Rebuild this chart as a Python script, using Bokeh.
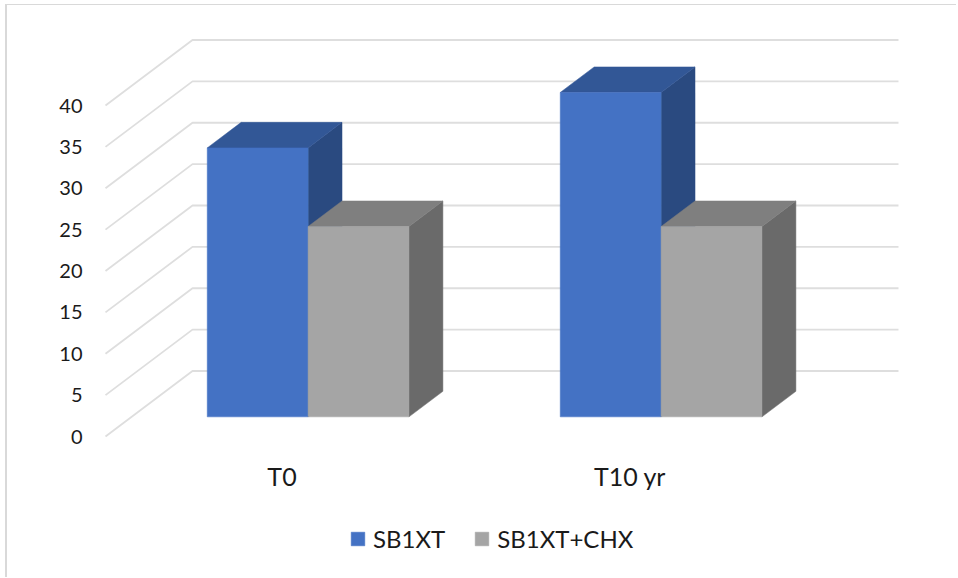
from bokeh.core.properties import value
from bokeh.embed import file_html
from bokeh.resources import INLINE
from bokeh.models import Legend, LegendItem, Range1d
from bokeh.plotting import figure

# Chart data
categories = ["T0", "T10 yr"]
series_names = ["SB1XT", "SB1XT+CHX"]
sb1xt = [32.5, 39.2]
sb1xt_chx = [23.0, 23.0]
y_ticks = [0, 5, 10, 15, 20, 25, 30, 35, 40]

# Face colours per series: front, top, side
face_colors = [("#4472C4", "#325796", "#2A4A80"), ("#A5A5A5", "#7F7F7F", "#6A6A6A")]
FONT = "Lato"

# Oblique projection of the 3D box: a unit of depth shifts a point right and up
X_SCALE = 353.0   # pixels per category
Y_SCALE = 8.275   # pixels per value unit
DEPTH_DX = 87.0 / X_SCALE
DEPTH_DY = 65.5 / Y_SCALE
GAP = 1.5         # gap width, in bar widths
BAR_DEPTH = (0.30, 0.69)


def project(x, v, d):
    return x + d * DEPTH_DX, v + d * DEPTH_DY


# The figure sits inside a margin that leaves room for the chart-area edge.
# The frame reaches down past the category labels so the legend can sit inside it.
MARGIN_X, MARGIN_Y = 7, 5
LEFT, RIGHT, TOP, BOTTOM = 95, 902, 30, 570
ZERO_Y = 436      # pixel row of value 0 on the front plane
p = figure(
    width=958 - MARGIN_X, height=578 - MARGIN_Y, output_backend="svg", toolbar_location=None,
    margin=(MARGIN_Y, 0, 0, MARGIN_X),
    frame_width=RIGHT - LEFT, frame_height=BOTTOM - TOP,
    x_range=Range1d((LEFT - 105) / X_SCALE, (RIGHT - 105) / X_SCALE),
    y_range=Range1d((ZERO_Y - BOTTOM) / Y_SCALE, (ZERO_Y - TOP) / Y_SCALE),
    min_border_left=LEFT - MARGIN_X, min_border_right=958 - RIGHT,
    min_border_top=TOP - MARGIN_Y, min_border_bottom=578 - BOTTOM,
    outline_line_color=None, background_fill_color="white", border_fill_color="white",
    styles={"box-shadow": "-2px -1px 0 0 #D9D9D9"},
)
p.grid.visible = False
p.xaxis.visible = False

# Value axis
p.yaxis.ticker = y_ticks
p.yaxis.axis_line_color = None
p.yaxis.major_tick_line_color = None
p.yaxis.minor_tick_line_color = None
p.yaxis.major_label_text_font = FONT
p.yaxis.major_label_text_font_size = "20px"
p.yaxis.major_label_text_color = "#1a1a1a"
p.yaxis.major_label_standoff = 7

# Category labels under the floor
label_x = [i + 0.5 for i in range(len(categories))]
p.text(label_x, [(ZERO_Y - 475) / Y_SCALE] * len(categories), text=categories,
       x_offset=[0, -5], text_align="center", text_baseline="middle",
       text_font=value(FONT), text_font_size="25px", text_color="#1a1a1a")

# Wall gridlines: along the left wall, then across the back wall
grid_xs, grid_ys = [], []
for v in y_ticks:
    x0, y0 = project(0, v, 0)
    x1, y1 = project(0, v, 1)
    x2, y2 = project(len(categories), v, 1)
    grid_xs.append([x0, x1, x2])
    grid_ys.append([y0, y1, y2])
p.multi_line(grid_xs, grid_ys, line_color="#DEDEDE", line_width=1.8)


# Bars: each one is a front, top and side face
def draw_box(left, right, height, colors):
    d0, d1 = BAR_DEPTH
    front, top, side = colors
    corners = {
        "top": [(left, height, d0), (right, height, d0), (right, height, d1), (left, height, d1)],
        "side": [(right, 0, d0), (right, 0, d1), (right, height, d1), (right, height, d0)],
        "front": [(left, 0, d0), (right, 0, d0), (right, height, d0), (left, height, d0)],
    }
    fills = {"top": top, "side": side, "front": front}
    result = None
    for face in ("side", "top", "front"):
        pts = [project(*c) for c in corners[face]]
        result = p.patch([q[0] for q in pts], [q[1] for q in pts],
                         fill_color=fills[face], line_color=fills[face], line_width=0.5)
    return result


bar_w = 1.0 / (len(series_names) + GAP)
handles = [None, None]
for c in range(len(categories)):
    for s, values in enumerate((sb1xt, sb1xt_chx)):
        left = c + (GAP / 2 + s) * bar_w
        handles[s] = draw_box(left, left + bar_w, values[c], face_colors[s])

# Legend at the bottom of the frame
legend = Legend(
    items=[LegendItem(label=n, renderers=[h]) for n, h in zip(series_names, handles)],
    orientation="horizontal", location=(349 - LEFT, BOTTOM - 553),
    glyph_width=17, glyph_height=17, label_standoff=7, spacing=28,
    label_text_font=FONT, label_text_font_size="24px", label_text_color="#1a1a1a",
    background_fill_alpha=0, border_line_color=None, margin=0, padding=0,
)
p.add_layout(legend)

open("out.html", "w").write(file_html(p, INLINE))
